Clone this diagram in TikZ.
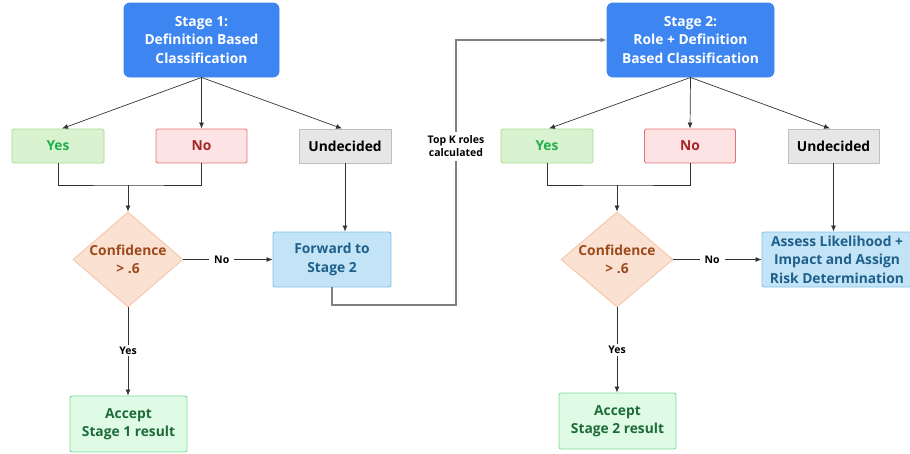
\documentclass[tikz,border=0pt]{standalone}
\usepackage{fontspec}
\setmainfont{Open Sans}
\usetikzlibrary{shapes.geometric,arrows.meta}
\definecolor{stageblue}{HTML}{3D85F0}
\definecolor{yesfill}{HTML}{D9F2D0}
\definecolor{yesdraw}{HTML}{A6DE93}
\definecolor{yestext}{HTML}{1FB04D}
\definecolor{nofill}{HTML}{FDE3E3}
\definecolor{nodraw}{HTML}{E57373}
\definecolor{notext}{HTML}{A52424}
\definecolor{udfill}{HTML}{E6E6E6}
\definecolor{uddraw}{HTML}{BFBFBF}
\definecolor{dmfill}{HTML}{FBE1D2}
\definecolor{dmdraw}{HTML}{F5C6A8}
\definecolor{dmtext}{HTML}{9C4A1C}
\definecolor{fwfill}{HTML}{C3E4F6}
\definecolor{fwdraw}{HTML}{7FC1E8}
\definecolor{fwtext}{HTML}{1F5F8B}
\definecolor{acfill}{HTML}{DFFBE6}
\definecolor{acdraw}{HTML}{80DB9B}
\definecolor{actext}{HTML}{1E6B3A}
\definecolor{linecol}{HTML}{333333}
\definecolor{graycol}{HTML}{808080}
\tikzset{
  x=1pt,y=-1pt,
  base/.style={draw,align=center,inner sep=0pt,font=\fontsize{13.8}{18.5}\selectfont\bfseries,line width=0.9pt},
  stagebox/.style={base,fill=stageblue,draw=stageblue,text=white,rounded corners=6pt,minimum height=74pt},
  yesbox/.style={base,fill=yesfill,draw=yesdraw,text=yestext,rounded corners=1.5pt,minimum width=92pt,minimum height=34pt},
  nobox/.style={base,fill=nofill,draw=nodraw,text=notext,rounded corners=1.5pt,minimum width=91pt,minimum height=34pt},
  udbox/.style={base,fill=udfill,draw=uddraw,text=black,minimum width=92pt,minimum height=34pt},
  dmbox/.style={diamond,draw=dmdraw,fill=dmfill,line width=0.9pt,inner sep=0pt,minimum width=110pt,minimum height=95pt},
  dmtxt/.style={align=center,inner sep=0pt,text=dmtext,font=\fontsize{13.8}{18.5}\selectfont\bfseries},
  fwbox/.style={base,fill=fwfill,draw=fwdraw,text=fwtext,rounded corners=2pt,minimum height=55pt},
  acbox/.style={base,fill=acfill,draw=acdraw,text=actext,rounded corners=2pt,minimum width=117pt,minimum height=56pt},
  arr/.style={draw=linecol,line width=0.7pt,-{Latex[length=6pt,width=5pt]}},
  ln/.style={draw=linecol,line width=0.7pt},
  garr/.style={draw=graycol,line width=1.2pt,-{Latex[length=6pt,width=5pt]}},
  lab/.style={fill=white,inner xsep=5pt,inner ysep=2pt,font=\fontsize{10.5}{13}\selectfont\bfseries,text=black,align=center},
}
\begin{document}
\begin{tikzpicture}
\useasboundingbox (0,0) rectangle (910,453);
% Stage 1
\node[stagebox,minimum width=155pt] (s1) at (201.5,40) {Stage 1:\\Definition Based\\Classification};
\node[yesbox] (y1) at (58,146) {Yes};
\node[nobox] (n1) at (201.5,146) {No};
\node[udbox] (u1) at (345,146) {Undecided};
\node[dmbox] (d1) at (128,259.5) {};
\node[dmtxt] (d1t) at (128,259.5) {Confidence\\> .6};
\node[fwbox,minimum width=118pt] (f1) at (332,259.5) {Forward to\\Stage 2};
\node[acbox] (a1) at (128.5,424) {Accept\\Stage 1 result};
% Stage 2
\node[stagebox,minimum width=167pt] (s2) at (690.5,40) {Stage 2:\\Role + Definition\\Based Classification};
\node[yesbox] (y2) at (547,146) {Yes};
\node[nobox] (n2) at (690,146) {No};
\node[udbox,minimum width=91pt] (u2) at (833.5,146) {Undecided};
\node[dmbox,minimum width=112pt] (d2) at (617,259.5) {};
\node[dmtxt] (d2t) at (617,259.5) {Confidence\\> .6};
\node[fwbox,minimum width=150pt] (r2) at (837,259.5) {Assess Likelihood +\\Impact and Assign\\Risk Determination};
\node[acbox] (a2) at (617.5,421) {Accept\\Stage 2 result};
% connectors stage 1
\draw[arr] (s1.south) -- ([xshift=4pt]y1.north);
\draw[arr] (s1.south) -- (n1.north);
\draw[arr] (s1.south) -- ([xshift=-3pt]u1.north);
\coordinate (m1) at (128,185);
\draw[ln] (y1.south) |- (m1) -| (n1.south);
\draw[arr] (m1) -- (d1.north);
\draw[arr] (u1.south) -- (u1.south |- f1.north);
\draw[arr] (d1.east) -- node[lab,pos=0.43] (no1) {No} (f1.west);
\draw[arr] (d1.south) -- node[lab,pos=0.49] (ye1) {Yes} (a1.north -| d1.south);
% forward to stage 2
\coordinate (k) at (456,305);
\draw[garr] (f1.south) |- (k) |- (s2.west);
\node[lab,inner xsep=2pt,inner ysep=4pt] (tk) at (456,146.5) {Top K roles\\calculated};
% connectors stage 2
\draw[arr] (s2.south) -- ([xshift=2pt]y2.north);
\draw[arr] (s2.south) -- (n2.north);
\draw[arr] (s2.south) -- ([xshift=-3.5pt]u2.north);
\coordinate (m2) at (617,185);
\draw[ln] (y2.south) |- (m2) -| (n2.south);
\draw[arr] (m2) -- (d2.north);
\draw[arr] (u2.south) -- (u2.south |- r2.north);
\draw[arr] (d2.east) -- node[lab,pos=0.44] (no2) {No} (r2.west);
\draw[arr] (d2.south) -- node[lab,pos=0.5] (ye2) {Yes} (a2.north -| d2.south);
\end{tikzpicture}
\end{document}
